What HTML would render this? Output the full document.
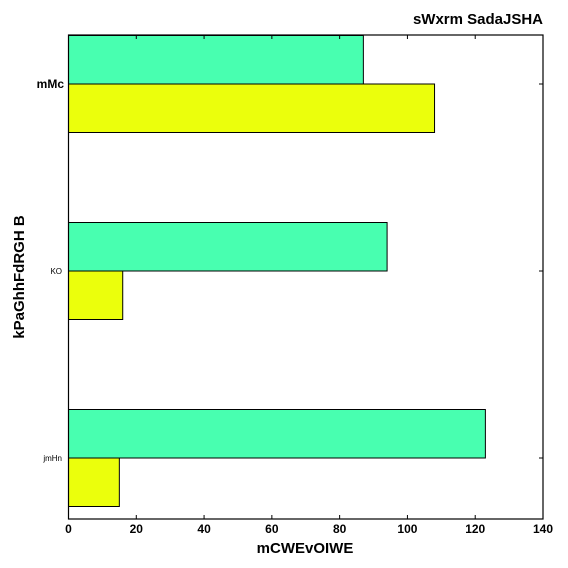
<!DOCTYPE html>
<html><head><meta charset="utf-8"><style>
html,body{margin:0;padding:0;background:#fff;}
svg{display:block;font-family:"Liberation Sans",Arial,sans-serif;}
</style></head><body>
<svg id="chart" width="568" height="568" viewBox="0 0 568 568">
<text x="543" y="24" text-anchor="end" font-size="15" font-weight="bold">sWxrm SadaJSHA</text>
<text x="305" y="553" text-anchor="middle" font-size="15" font-weight="bold">mCWEvOIWE</text>
<text transform="translate(24,277) rotate(-90)" text-anchor="middle" font-size="15" font-weight="bold">kPaGhhFdRGH B</text>
<g id="bars"></g>
<g id="axes"></g>
</svg>
<script>
const categories = ["mMc", "KO", "jmHn"];
const seriesTeal = [87, 94, 123];
const seriesYellow = [108, 16, 15];
const xTicks = [0, 20, 40, 60, 80, 100, 120, 140];

const L = 68.5, R = 543, T = 35, B = 519;
const xMax = 140;
function xs(v){ return L + (R - L) * v / xMax; }
function ys(i){ return 84 + 187 * i; }
const barH = 48.5;
const NS = "http://www.w3.org/2000/svg";
const bars = document.getElementById('bars');
const axes = document.getElementById('axes');
function mk(tag, attrs, parent){
  const e = document.createElementNS(NS, tag);
  for (const k in attrs) e.setAttribute(k, attrs[k]);
  parent.appendChild(e); return e;
}
categories.forEach((c, i) => {
  const y = ys(i);
  const r1 = mk('rect', {x: xs(0), y: y - barH, width: xs(seriesTeal[i]) - xs(0), height: barH, fill: '#48ffb0', stroke: '#000', 'stroke-width': 1}, bars);
  
  
  const r2 = mk('rect', {x: xs(0), y: y, width: xs(seriesYellow[i]) - xs(0), height: barH, fill: '#ebff0c', stroke: '#000', 'stroke-width': 1}, bars);
  
  
  const t = mk('text', {x: i === 0 ? 64 : 62, y: y + (i === 0 ? 4 : 3), 'text-anchor': 'end', 'font-size': i === 0 ? 12 : 8, 'font-weight': i === 0 ? 'bold' : 'normal'}, axes);
  t.textContent = c;
  
  
  const tk = mk('line', {x1: R - 4, x2: R, y1: y, y2: y, stroke: '#000'}, axes);
  
  
});
const frame = mk('rect', {x: L, y: T, width: R - L, height: B - T, fill: 'none', stroke: '#000', 'stroke-width': 1.2}, axes);


xTicks.forEach(v => {
  const x = xs(v);
  const a = mk('line', {x1: x, x2: x, y1: B, y2: B - 4, stroke: '#000'}, axes);
  
  
  const b = mk('line', {x1: x, x2: x, y1: T, y2: T + 4, stroke: '#000'}, axes);
  
  
  const t = mk('text', {x: x, y: 533, 'text-anchor': 'middle', 'font-size': 12, 'font-weight': 'bold'}, axes);
  t.textContent = v;
  
  
});
</script>
</body></html>
